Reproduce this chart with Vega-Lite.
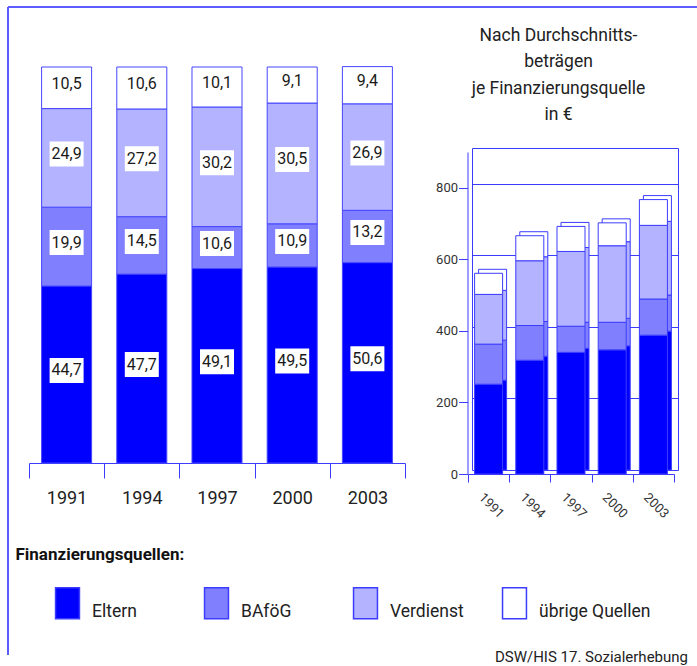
{
  "$schema": "https://vega.github.io/schema/vega-lite/v6.json",
  "width": 689,
  "height": 648,
  "autosize": {"type": "none"},
  "padding": {"left": 8, "top": 7, "right": 0, "bottom": 11},
  "datasets": {
    "werte": [
      {"jahr": "1991", "quelle": "Eltern", "anteil": 44.7, "betrag": 251},
      {"jahr": "1991", "quelle": "BAföG", "anteil": 19.9, "betrag": 112},
      {"jahr": "1991", "quelle": "Verdienst", "anteil": 24.9, "betrag": 139},
      {"jahr": "1991", "quelle": "übrige Quellen", "anteil": 10.5, "betrag": 59},
      {"jahr": "1994", "quelle": "Eltern", "anteil": 47.7, "betrag": 318},
      {"jahr": "1994", "quelle": "BAföG", "anteil": 14.5, "betrag": 97},
      {"jahr": "1994", "quelle": "Verdienst", "anteil": 27.2, "betrag": 181},
      {"jahr": "1994", "quelle": "übrige Quellen", "anteil": 10.6, "betrag": 70},
      {"jahr": "1997", "quelle": "Eltern", "anteil": 49.1, "betrag": 340},
      {"jahr": "1997", "quelle": "BAföG", "anteil": 10.6, "betrag": 73},
      {"jahr": "1997", "quelle": "Verdienst", "anteil": 30.2, "betrag": 209},
      {"jahr": "1997", "quelle": "übrige Quellen", "anteil": 10.1, "betrag": 70},
      {"jahr": "2000", "quelle": "Eltern", "anteil": 49.5, "betrag": 347},
      {"jahr": "2000", "quelle": "BAföG", "anteil": 10.9, "betrag": 77},
      {"jahr": "2000", "quelle": "Verdienst", "anteil": 30.5, "betrag": 214},
      {"jahr": "2000", "quelle": "übrige Quellen", "anteil": 9.1, "betrag": 64},
      {"jahr": "2003", "quelle": "Eltern", "anteil": 50.6, "betrag": 388},
      {"jahr": "2003", "quelle": "BAföG", "anteil": 13.2, "betrag": 101},
      {"jahr": "2003", "quelle": "Verdienst", "anteil": 26.9, "betrag": 206},
      {"jahr": "2003", "quelle": "übrige Quellen", "anteil": 9.4, "betrag": 72}
    ]
  },
  "data": {"name": "werte"},
  "transform": [
    {"calculate": "indexof(['Eltern', 'BAföG', 'Verdienst', 'übrige Quellen'], datum.quelle)", "as": "rang"}
  ],
  "title": {
    "text": "DSW/HIS 17. Sozialerhebung",
    "orient": "bottom",
    "anchor": "end",
    "frame": "group",
    "offset": 7,
    "baseline": "alphabetic",
    "dx": -9,
    "fontSize": 15,
    "fontWeight": "normal",
    "color": "#222222"
  },
  "config": {
    "font": "Roboto",
    "locale": {"number": {"decimal": ",", "thousands": ".", "grouping": [3], "currency": ["", " €"]}},
    "view": {"stroke": "#5c5cff", "strokeWidth": 2, "strokeDash": [689, 1337, 648, 0]},
    "axis": {
      "labelColor": "#222222",
      "titleColor": "#222222",
      "domainColor": "#3c3cff",
      "tickColor": "#3c3cff",
      "gridColor": "#3c3cff",
      "gridOpacity": 1,
      "domainWidth": 1,
      "tickWidth": 1
    }
  },
  "resolve": {
    "scale": {"x": "independent", "y": "independent"},
    "axis": {"x": "independent", "y": "independent"}
  },
  "layer": [
    {
      "encoding": {
        "x": {
          "field": "jahr",
          "type": "ordinal",
          "scale": {"range": [21, 397], "paddingInner": 0, "paddingOuter": 0},
          "axis": {
            "orient": "bottom",
            "offset": -192,
            "tickBand": "extent",
            "tickSize": 15,
            "labelAngle": 0,
            "labelFontSize": 18,
            "labelBaseline": "alphabetic",
            "labelPadding": 25,
            "grid": false,
            "title": "Finanzierungsquellen:",
            "titleX": 7,
            "titleY": 96,
            "titleAlign": "left",
            "titleBaseline": "alphabetic",
            "titleFontSize": 17,
            "titleFontWeight": "bold",
            "titleColor": "#111111"
          }
        },
        "order": {"field": "rang", "type": "quantitative"}
      },
      "layer": [
        {
          "mark": {"type": "bar", "width": {"band": 0.665}, "stroke": "#4646ff", "strokeWidth": 1},
          "encoding": {
            "y": {"field": "anteil", "type": "quantitative", "stack": "zero", "scale": {"domain": [0, 100], "range": [456, 60], "nice": false}, "axis": null},
            "color": {
              "field": "quelle",
              "type": "nominal",
              "scale": {"domain": ["Eltern", "BAföG", "Verdienst", "übrige Quellen"], "range": ["#0000ff", "#8080ff", "#b3b3ff", "#ffffff"]},
              "legend": {
                "orient": "none",
                "legendX": 47,
                "legendY": 597,
                "direction": "horizontal",
                "columns": 4,
                "gridAlign": "all",
                "columnPadding": -5,
                "padding": 0,
                "title": null,
                "symbolType": "M-1.04,-2.52H1.04V0.17H-1.04Z",
                "symbolSize": 529,
                "symbolStrokeColor": "#3c3cff",
                "symbolStrokeWidth": 1.5,
                "symbolOpacity": 1,
                "labelFontSize": 17.5,
                "labelColor": "#222222",
                "labelOffset": 12,
                "labelBaseline": "alphabetic",
                "labelLimit": 250
              }
            }
          }
        },
        {
          "mark": {"type": "point", "shape": "M-1,-0.735H1V0.735H-1Z", "size": 1156, "filled": true, "opacity": 1, "yOffset": -4},
          "encoding": {
            "y": {"field": "anteil", "type": "quantitative", "stack": "zero", "bandPosition": 0.5, "scale": {"domain": [0, 100], "range": [456, 60], "nice": false}, "axis": null},
            "color": {
              "field": "quelle",
              "type": "nominal",
              "scale": {"domain": ["Eltern", "BAföG", "Verdienst", "übrige Quellen"], "range": ["#0000ff", "#8080ff", "#b3b3ff", "#ffffff"]},
              "legend": null
            },
            "fill": {"value": "#ffffff"}
          }
        },
        {
          "mark": {"type": "text", "fontSize": 16, "dy": -4, "baseline": "middle"},
          "encoding": {
            "y": {"field": "anteil", "type": "quantitative", "stack": "zero", "bandPosition": 0.5, "scale": {"domain": [0, 100], "range": [456, 60], "nice": false}, "axis": null},
            "color": {
              "field": "quelle",
              "type": "nominal",
              "scale": {"domain": ["Eltern", "BAföG", "Verdienst", "übrige Quellen"], "range": ["#0000ff", "#8080ff", "#b3b3ff", "#ffffff"]},
              "legend": null
            },
            "fill": {"value": "#1a1a1a"},
            "text": {"field": "anteil", "type": "quantitative", "format": ".1f"}
          }
        }
      ]
    },
    {
      "mark": {"type": "bar", "width": {"band": 0.68}, "stroke": "#3c3cff", "strokeWidth": 1},
      "encoding": {
        "x": {
          "field": "jahr",
          "type": "ordinal",
          "scale": {"range": [464, 670], "paddingInner": 0, "paddingOuter": 0},
          "axis": {
            "orient": "top",
            "offset": -141,
            "values": ["2003"],
            "bandPosition": 1,
            "tickExtra": false,
            "grid": true,
            "domain": true,
            "ticks": false,
            "labels": false,
            "title": ["Nach Durchschnitts-", "beträgen", "je Finanzierungsquelle", "in €"],
            "titleX": 550,
            "titleY": -122,
            "titleAlign": "center",
            "titleBaseline": "top",
            "titleFontSize": 17.5,
            "titleFontWeight": "normal",
            "titleLineHeight": 26.5
          }
        },
        "y": {
          "field": "betrag",
          "type": "quantitative",
          "stack": "zero",
          "scale": {"domain": [0, 900], "range": [463, 141], "nice": false},
          "axis": {
            "orient": "left",
            "offset": -464,
            "values": [0, 200, 400, 600, 800],
            "grid": true,
            "domain": true,
            "ticks": false,
            "labels": false,
            "title": null
          }
        },
        "order": {"field": "rang", "type": "quantitative"},
        "color": {
          "field": "quelle",
          "type": "nominal",
          "scale": {"domain": ["Eltern", "BAföG", "Verdienst", "übrige Quellen"], "range": ["#0000ff", "#8080ff", "#b3b3ff", "#ffffff"]},
          "legend": null
        }
      }
    },
    {
      "mark": {"type": "bar", "width": {"band": 0.68}, "stroke": "#3c3cff", "strokeWidth": 1},
      "encoding": {
        "x": {
          "field": "jahr",
          "type": "ordinal",
          "scale": {"range": [460, 666], "paddingInner": 0, "paddingOuter": 0},
          "axis": {
            "orient": "bottom",
            "offset": -181,
            "tickBand": "extent",
            "tickSize": 8,
            "grid": false,
            "labelAngle": 45,
            "labelAlign": "left",
            "labelBaseline": "middle",
            "labelOffset": -8,
            "labelPadding": 13,
            "labelFontSize": 13,
            "labelColor": "#333333",
            "title": null
          }
        },
        "y": {
          "field": "betrag",
          "type": "quantitative",
          "stack": "zero",
          "scale": {"domain": [0, 900], "range": [467, 145], "nice": false},
          "axis": {
            "orient": "left",
            "offset": -459.5,
            "values": [0, 200, 400, 600, 800],
            "grid": false,
            "tickSize": 9,
            "labelPadding": 1,
            "labelFontSize": 13,
            "labelColor": "#333333",
            "title": null
          }
        },
        "order": {"field": "rang", "type": "quantitative"},
        "color": {
          "field": "quelle",
          "type": "nominal",
          "scale": {"domain": ["Eltern", "BAföG", "Verdienst", "übrige Quellen"], "range": ["#0000ff", "#8080ff", "#b3b3ff", "#ffffff"]},
          "legend": null
        }
      }
    }
  ]
}
